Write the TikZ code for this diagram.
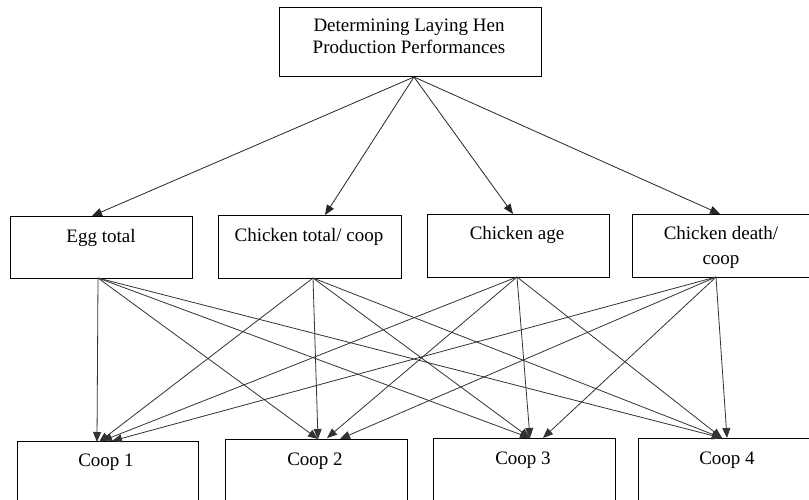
\documentclass[tikz,border=0pt]{standalone}
\usepackage{fontspec}
\setmainfont{Liberation Serif}
\usetikzlibrary{arrows.meta}
\begin{document}
\begin{tikzpicture}[x=1pt,y=-1pt,
  box/.style={draw=black,line width=0.9pt,inner sep=0pt,minimum width=#1},
  lbl/.style={font=\fontsize{19}{22}\selectfont,anchor=base,inner sep=0pt},
  arr/.style={draw=black!80,line width=0.8pt,-{Triangle[length=10pt,width=8pt]}}]
\path[use as bounding box,clip] (0,0) rectangle (809,500);
\fill[white] (0,0) rectangle (809,500);
% boxes
\node[box=262pt,minimum height=69pt] (top) at (410,41.5) {};
\node[box=182pt,minimum height=62pt] (egg) at (101,247) {};
\node[box=183pt,minimum height=63pt] (tot) at (309.5,246.5) {};
\node[box=182pt,minimum height=63pt] (age) at (518,245.5) {};
\node[box=198pt,minimum height=63pt] (dth) at (731,245.5) {};
\node[box=181pt,minimum height=90pt] (c1) at (107.5,486) {};
\node[box=182pt,minimum height=90pt] (c2) at (316,484) {};
\node[box=182pt,minimum height=90pt] (c3) at (524,483) {};
\node[box=192pt,minimum height=90pt] (c4) at (734,483) {};
% texts
\node[lbl] (t1) at (409,32) {Determining Laying Hen};
\node[lbl] (t2) at (409,54) {Production Performances};
\node[lbl] (eggt) at (101,242) {Egg total};
\node[lbl] (tott) at (309,241) {Chicken total/ coop};
\node[lbl] (aget) at (517,240) {Chicken age};
\node[lbl] (dtht1) at (721,239) {Chicken death/};
\node[lbl] (dtht2) at (721,264) {coop};
\node[lbl] (c1t) at (106,466) {Coop 1};
\node[lbl] (c2t) at (315,465) {Coop 2};
\node[lbl] (c3t) at (523,464) {Coop 3};
\node[lbl] (c4t) at (727,464) {Coop 4};
% connector points
\coordinate (apex) at (414,77);
\coordinate (eggN) at (92,216);
\coordinate (totN) at (325,215);
\coordinate (ageN) at (513,214);
\coordinate (dthN) at (720,214);
\coordinate (eggS) at (98,278);
\coordinate (totS) at (313,278);
\coordinate (ageS) at (517,277);
\coordinate (dthS) at (716,277);
\coordinate (c1a) at (97,442);
\coordinate (c1b) at (99,442);
\coordinate (c1c) at (102,441);
\coordinate (c1d) at (112,441);
\coordinate (c2a) at (318,439);
\coordinate (c2c) at (327,438);
\coordinate (c2d) at (340,439);
\coordinate (c3a) at (530,438);
\coordinate (c3d) at (543,438);
\coordinate (c4a) at (722,438);
\coordinate (c4d) at (727,438);
% top arrows
\draw[arr,draw=black!85] (apex) -- (eggN);
\draw[arr,draw=black!85] (apex) -- (totN);
\draw[arr,draw=black!85] (apex) -- (ageN);
\draw[arr,draw=black!85] (apex) -- (dthN);
% lower arrows
\draw[arr] (eggS) -- (c1a);
\draw[arr] (eggS) -- (c2a);
\draw[arr] (eggS) -- (c3a);
\draw[arr] (eggS) -- (c4a);
\draw[arr] (totS) -- (c1b);
\draw[arr] (totS) -- (c2a);
\draw[arr] (totS) -- (c3a);
\draw[arr] (totS) -- (c4a);
\draw[arr] (ageS) -- (c1c);
\draw[arr] (ageS) -- (c2c);
\draw[arr] (ageS) -- (c3a);
\draw[arr] (ageS) -- (c4a);
\draw[arr] (dthS) -- (c1d);
\draw[arr] (dthS) -- (c2d);
\draw[arr] (dthS) -- (c3d);
\draw[arr] (dthS) -- (c4d);
\end{tikzpicture}
\end{document}
